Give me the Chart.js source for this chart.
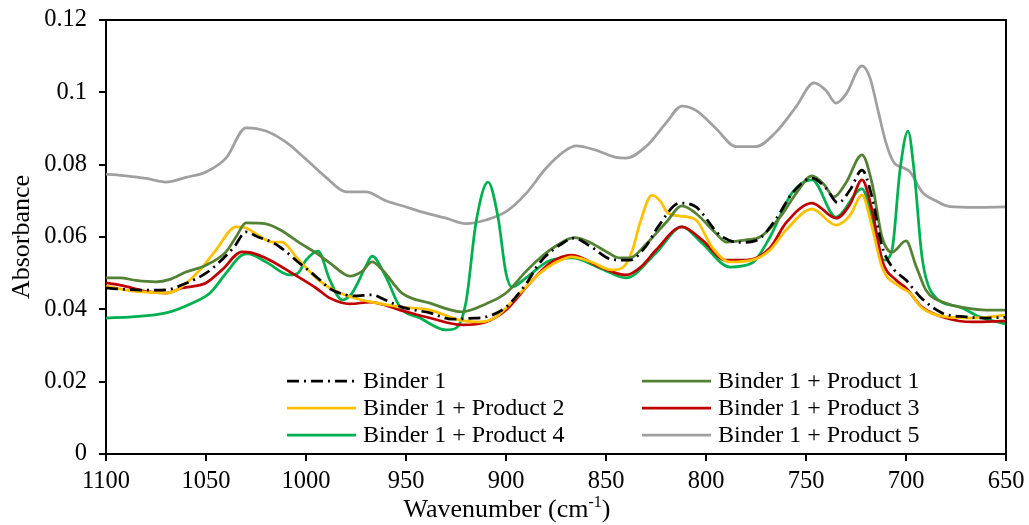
<!DOCTYPE html>
<html>
<head>
<meta charset="utf-8">
<script src="https://cdn.jsdelivr.net/npm/chart.js@4/dist/chart.umd.min.js"></script>
<style>
  html, body { margin: 0; padding: 0; background: #fff; }
  #wrap { width: 1029px; height: 525px; }
</style>
</head>
<body>
<div id="wrap"><canvas id="c" width="1029" height="525"></canvas></div>
<script>
// ---- Data ----
const seriesLabels = ["Binder 1", "Binder 1 + Product 1", "Binder 1 + Product 2",
                      "Binder 1 + Product 3", "Binder 1 + Product 4", "Binder 1 + Product 5"];

const binder1X = [1100,1090,1078,1070,1060,1050,1045,1036,1030,1024,1016,1011,1004,999,993,988,980,976,967,960,952,938,927,918,910,900,890,883,873,866,858,847,838,830,824,813,805,793,783,775,765,757,747,740,734,728,722,717,712,706,700,693,682,670,660,650];
const binder1Y = [0.0459,0.0455,0.0453,0.0454,0.0472,0.0500,0.0522,0.0572,0.0614,0.0600,0.0583,0.0564,0.0531,0.0509,0.0481,0.0457,0.0440,0.0437,0.0440,0.0425,0.0406,0.0390,0.0373,0.0375,0.0379,0.0406,0.0470,0.0530,0.0578,0.0597,0.0575,0.0538,0.0536,0.0575,0.0628,0.0694,0.0683,0.0605,0.0585,0.0590,0.0650,0.0720,0.0763,0.0735,0.0694,0.0730,0.0785,0.0710,0.0575,0.0510,0.0481,0.0435,0.0390,0.0379,0.0376,0.0378];

const prod1X = [1100,1093,1085,1075,1068,1060,1050,1040,1035,1030,1020,1013,1003,995,988,978,972,967,962,952,938,922,910,900,890,883,875,866,858,850,843,838,830,820,812,805,795,790,780,773,763,755,747,741,736,730,722,717,712,707,700,695,690,680,670,660,650];
const prod1Y = [0.0487,0.0487,0.0480,0.0476,0.0483,0.0503,0.0522,0.0559,0.0600,0.0639,0.0636,0.0620,0.0583,0.0556,0.0528,0.0492,0.0505,0.0531,0.0510,0.0445,0.0417,0.0393,0.0415,0.0445,0.0505,0.0542,0.0575,0.0598,0.0585,0.0560,0.0542,0.0542,0.0580,0.0640,0.0686,0.0665,0.0610,0.0586,0.0592,0.0600,0.0655,0.0720,0.0769,0.0745,0.0711,0.0750,0.0827,0.0749,0.0600,0.0558,0.0589,0.0520,0.0453,0.0417,0.0404,0.0398,0.0398];

const prod2X = [1100,1087,1078,1070,1063,1053,1045,1035,1030,1024,1017,1012,1005,995,988,983,975,967,952,938,923,913,905,893,883,875,867,857,847,842,837,833,827,823,819,813,805,797,788,777,768,760,747,735,728,722,717,712,703,698,692,680,667,650];
const prod2Y = [0.0464,0.0451,0.0447,0.0445,0.0459,0.0509,0.0564,0.0628,0.0625,0.0605,0.0586,0.0586,0.0545,0.0487,0.0459,0.0445,0.0430,0.0420,0.0406,0.0398,0.0370,0.0365,0.0379,0.0445,0.0500,0.0530,0.0545,0.0530,0.0509,0.0514,0.0560,0.0639,0.0716,0.0700,0.0666,0.0658,0.0647,0.0572,0.0531,0.0536,0.0564,0.0619,0.0677,0.0633,0.0660,0.0716,0.0628,0.0517,0.0462,0.0445,0.0404,0.0379,0.0376,0.0384];

const prod3X = [1100,1093,1078,1070,1062,1050,1042,1032,1027,1018,1007,995,988,978,968,953,938,922,910,900,888,878,867,853,840,832,825,812,802,790,780,768,760,747,735,728,722,717,712,705,700,692,680,667,650];
const prod3Y = [0.0473,0.0467,0.0448,0.0445,0.0459,0.0473,0.0509,0.0559,0.0556,0.0536,0.0500,0.0459,0.0431,0.0415,0.0420,0.0398,0.0376,0.0357,0.0365,0.0398,0.0473,0.0528,0.0550,0.0517,0.0495,0.0520,0.0564,0.0628,0.0592,0.0536,0.0536,0.0570,0.0639,0.0694,0.0652,0.0690,0.0758,0.0675,0.0536,0.0481,0.0459,0.0406,0.0376,0.0365,0.0368];

const prod4X = [1100,1087,1070,1057,1048,1040,1032,1029,1020,1008,1004,1000,994,988,982,977,970,967,960,953,943,930,925,920,915,909,904,900,897,890,878,867,853,840,825,812,802,788,777,768,757,747,735,722,717,711,707,703,699,696,692,687,673,663,650];
const prod4Y = [0.0376,0.0379,0.0390,0.0417,0.0445,0.0500,0.0550,0.0553,0.0531,0.0495,0.0500,0.0536,0.0561,0.0480,0.0426,0.0445,0.0520,0.0547,0.0489,0.0406,0.0376,0.0343,0.0348,0.0420,0.0640,0.0752,0.0655,0.0500,0.0462,0.0487,0.0535,0.0542,0.0514,0.0487,0.0556,0.0628,0.0583,0.0517,0.0528,0.0600,0.0722,0.0758,0.0655,0.0733,0.0655,0.0536,0.0564,0.0785,0.0893,0.0785,0.0545,0.0445,0.0406,0.0379,0.0359];

const prod5X = [1100,1090,1080,1070,1060,1050,1040,1030,1020,1010,1000,990,980,970,960,950,940,930,920,910,900,890,880,870,865,855,845,840,830,820,812,805,795,785,775,765,755,746,740,735,730,722,718,714,710,706,702,698,692,685,678,665,650];
const prod5Y = [0.0774,0.0769,0.0762,0.0752,0.0765,0.0780,0.0818,0.0902,0.0893,0.0862,0.0815,0.0765,0.0725,0.0725,0.0700,0.0683,0.0666,0.0652,0.0637,0.0647,0.0670,0.0720,0.0790,0.0840,0.0852,0.0840,0.0820,0.0818,0.0850,0.0915,0.0962,0.0950,0.0900,0.0850,0.0850,0.0890,0.0960,0.1026,0.1005,0.0970,0.0995,0.1073,0.1040,0.0950,0.0860,0.0805,0.0793,0.0780,0.0725,0.0700,0.0684,0.0682,0.0683];

const xTicks = [1100,1050,1000,950,900,850,800,750,700,650];
const yTicks = [0,0.02,0.04,0.06,0.08,0.1,0.12];
const xTitleMain = "Wavenumber (cm";
const xTitleSup = "-1";
const xTitleEnd = ")";
const yTitle = "Absorbance";

// ---- Build ----
function pts(xs, ys) { return xs.map((x, i) => ({ x: x, y: ys[i] })); }

const styles = [
  { color: '#000000', dash: [12, 5, 2, 5] },
  { color: '#548235', dash: [] },
  { color: '#FFC000', dash: [] },
  { color: '#C00000', dash: [] },
  { color: '#00B050', dash: [] },
  { color: '#A0A0A0', dash: [] }
];
const allX = [binder1X, prod1X, prod2X, prod3X, prod4X, prod5X];
const allY = [binder1Y, prod1Y, prod2Y, prod3Y, prod4Y, prod5Y];

const datasets = seriesLabels.map((lab, i) => ({
  label: lab,
  data: pts(allX[i], allY[i]),
  borderColor: styles[i].color,
  backgroundColor: styles[i].color,
  borderDash: styles[i].dash,
  borderWidth: 2.75,
  pointRadius: 0,
  cubicInterpolationMode: 'monotone',
  fill: false
}));

const FONT = "'Liberation Serif', 'Times New Roman', 'DejaVu Serif', serif";

const frameAndLegend = {
  id: 'frameAndLegend',
  afterDraw(chart) {
    const ctx = chart.ctx;
    const a = chart.chartArea;
    ctx.save();
    // frame (top and right)
    ctx.strokeStyle = '#000';
    ctx.lineWidth = 2;
    ctx.beginPath();
    ctx.moveTo(a.left, a.top);
    ctx.lineTo(a.right, a.top);
    ctx.lineTo(a.right, a.bottom);
    ctx.stroke();
    // legend inside plot area
    const colLine = [a.left + 181, a.left + 536];
    const rowY = [a.bottom - 73, a.bottom - 46, a.bottom - 19];
    const lineLen = 69;
    ctx.font = '24px ' + FONT;
    ctx.textBaseline = 'middle';
    ctx.textAlign = 'left';
    chart.data.datasets.forEach((ds, i) => {
      const col = i % 2, row = Math.floor(i / 2);
      const x0 = colLine[col], y = rowY[row];
      ctx.strokeStyle = ds.borderColor;
      ctx.lineWidth = 2.75;
      ctx.setLineDash(ds.borderDash || []);
      ctx.beginPath();
      ctx.moveTo(x0, y);
      ctx.lineTo(x0 + lineLen, y);
      ctx.stroke();
      ctx.setLineDash([]);
      ctx.fillStyle = '#000';
      ctx.fillText(ds.label, x0 + lineLen + 7, y + 1);
    });
    // x-axis title with superscript
    const big = '26px ' + FONT, small = '16px ' + FONT;
    ctx.textBaseline = 'alphabetic';
    ctx.font = big;
    const w1 = ctx.measureText(xTitleMain).width;
    const w3 = ctx.measureText(xTitleEnd).width;
    ctx.font = small;
    const w2 = ctx.measureText(xTitleSup).width;
    const total = w1 + w2 + w3;
    const cx = a.left + 401;
    const base = 517;
    let x = cx - total / 2;
    ctx.font = big;
    ctx.fillText(xTitleMain, x, base);
    x += w1;
    ctx.font = small;
    ctx.fillText(xTitleSup, x, base - 10);
    x += w2;
    ctx.font = big;
    ctx.fillText(xTitleEnd, x, base);
    ctx.restore();
  }
};

new Chart(document.getElementById('c'), {
  type: 'line',
  data: { datasets: datasets },
  plugins: [frameAndLegend],
  options: {
    responsive: false,
    animation: false,
    layout: { padding: { left: 0, right: 23, top: 20, bottom: 0 } },
    plugins: { legend: { display: false }, tooltip: { enabled: false } },
    scales: {
      x: {
        type: 'linear',
        reverse: true,
        min: 650, max: 1100,
        afterBuildTicks: (s) => { s.ticks = xTicks.map(v => ({ value: v })); },
        afterFit: (s) => { s.height = 71; s.paddingLeft = 0; s.paddingRight = 0; },
        ticks: { color: '#000', font: { family: FONT, size: 24.5 }, padding: 6, maxRotation: 0,
                 callback: (v) => String(v) },
        grid: { drawOnChartArea: false, drawTicks: true, tickLength: 7, color: '#000', lineWidth: 2 },
        border: { display: true, color: '#000', width: 2 },
        title: { display: false }
      },
      y: {
        min: 0, max: 0.12,
        afterBuildTicks: (s) => { s.ticks = yTicks.map(v => ({ value: v })); },
        afterFit: (s) => { s.width = 106; s.paddingTop = 0; s.paddingBottom = 0; },
        ticks: { color: '#000', font: { family: FONT, size: 24.5 }, padding: 12,
                 callback: (v) => String(+Number(v).toFixed(2)) },
        grid: { drawOnChartArea: false, drawTicks: true, tickLength: 7, color: '#000', lineWidth: 2 },
        border: { display: true, color: '#000', width: 2 },
        title: { display: true, text: yTitle, color: '#000',
                 font: { family: FONT, size: 26 }, padding: { top: 7, bottom: 0 } }
      }
    }
  }
});
</script>
</body>
</html>
